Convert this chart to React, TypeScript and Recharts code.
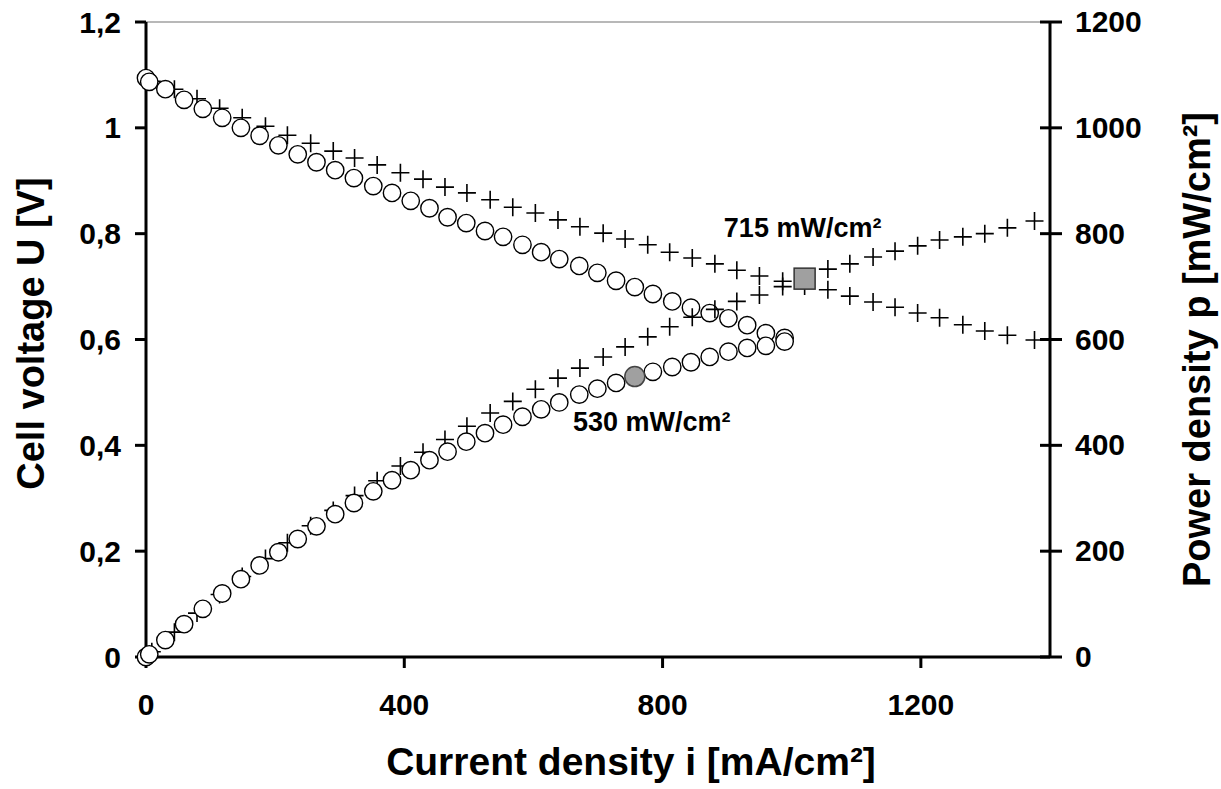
import {
  ScatterChart,
  Scatter,
  XAxis,
  YAxis,
  ReferenceLine,
} from "recharts";

// sample A (circles)
const currentA = [0, 5, 30, 59, 88, 118, 147, 176, 205, 235, 264, 293, 322, 352, 381, 410, 439, 467, 496, 525, 553, 583, 612, 640, 671, 699, 728, 757, 785, 815, 844, 873, 902, 931, 960, 989];
const voltageA = [1.094, 1.087, 1.073, 1.053, 1.036, 1.019, 1.0, 0.985, 0.967, 0.95, 0.935, 0.92, 0.905, 0.89, 0.877, 0.862, 0.848, 0.831, 0.82, 0.805, 0.794, 0.779, 0.765, 0.752, 0.739, 0.726, 0.711, 0.699, 0.686, 0.672, 0.66, 0.65, 0.64, 0.627, 0.612, 0.603];
const powerA = [0, 5, 32, 62, 91, 120, 147, 173, 198, 223, 247, 270, 291, 313, 334, 353, 372, 388, 407, 423, 439, 454, 468, 481, 496, 507, 518, 529, 539, 548, 557, 567, 577, 584, 588, 596];

// sample B (crosses)
const currentB = [0, 9, 44, 79, 114, 149, 185, 219, 255, 290, 323, 358, 394, 429, 463, 497, 533, 568, 603, 638, 672, 708, 742, 777, 811, 846, 881, 915, 950, 986, 1020, 1056, 1090, 1126, 1160, 1195, 1229, 1265, 1299, 1334, 1376];
const voltageB = [1.093, 1.088, 1.073, 1.055, 1.037, 1.019, 1.003, 0.986, 0.971, 0.956, 0.943, 0.93, 0.915, 0.903, 0.888, 0.877, 0.864, 0.85, 0.839, 0.826, 0.813, 0.801, 0.79, 0.779, 0.765, 0.754, 0.743, 0.731, 0.72, 0.71, 0.701, 0.694, 0.682, 0.671, 0.661, 0.65, 0.641, 0.628, 0.616, 0.608, 0.599];
const powerB = [0, 10, 47, 83, 118, 152, 186, 216, 248, 277, 305, 333, 361, 387, 411, 436, 461, 483, 506, 527, 546, 567, 586, 605, 624, 642, 657, 672, 684, 700, 715, 733, 743, 756, 767, 777, 788, 794, 800, 811, 824];

// maximum power points
const peakCurrent = [757, 1020];
const peakPower = [530, 715];
const peakLabels = ["530 mW/cm²", "715 mW/cm²"];

const xTicks = [0, 400, 800, 1200];
const uTicks = [0, 0.2, 0.4, 0.6, 0.8, 1, 1.2];
const pTicks = [0, 200, 400, 600, 800, 1000, 1200];

const uA = currentA.map((i, k) => ({ i, u: voltageA[k] }));
const pA = currentA.map((i, k) => ({ i, p: powerA[k] }));
const uB = currentB.map((i, k) => ({ i, u: voltageB[k] }));
const pB = currentB.map((i, k) => ({ i, p: powerB[k] }));
const peaks = peakCurrent.map((i, k) => ({ i, p: peakPower[k], label: peakLabels[k], k }));

const font = "'Liberation Sans', Arial, sans-serif";
const tickFont = { fontFamily: font, fontSize: 30, fontWeight: 700, fill: "#000" };
const titleStyle = { fontFamily: font, fontSize: 39, fontWeight: 700, fill: "#000", textAnchor: "middle" as const };

const Ring = (props: any) => (
  <circle cx={props.cx} cy={props.cy} r={8.7} fill="#fff" stroke="#000" strokeWidth={1.4} />
);

const Cross = (props: any) => {
  const { cx, cy } = props;
  return (
    <path
      d={`M${cx - 9},${cy}H${cx + 9}M${cx},${cy - 9}V${cy + 9}`}
      stroke="#000"
      strokeWidth={1.6}
      fill="none"
    />
  );
};

const Peak = (props: any) => {
  const { cx, cy, payload } = props;
  if (payload.k === 1) {
    return (
      <g>
        <rect x={cx - 10.5} y={cy - 10.5} width={21} height={21} fill="#a0a0a0" stroke="#333" strokeWidth={1.5} />
        <text x={cx - 2} y={cy - 42} textAnchor="middle" style={{ fontFamily: font, fontSize: 27, fontWeight: 700 }}>
          {payload.label}
        </text>
      </g>
    );
  }
  return (
    <g>
      <circle cx={cx} cy={cy} r={10} fill="#a0a0a0" stroke="#444" strokeWidth={1.5} />
      <text x={cx + 17} y={cy + 54} textAnchor="middle" style={{ fontFamily: font, fontSize: 27, fontWeight: 700 }}>
        {payload.label}
      </text>
    </g>
  );
};

const RightTick = (props: any) => {
  const { x, y, payload } = props;
  return (
    <g>
      <line x1={x - 35} x2={x - 13} y1={y} y2={y} stroke="#000" strokeWidth={3} />
      <text x={x} y={y} dy={10} textAnchor="start" style={tickFont}>
        {payload.value}
      </text>
    </g>
  );
};

// rotated axis title, placed from the axis box
const VTitle = ({ viewBox, text, fromLeft, shift }: any) => {
  const x = fromLeft ? viewBox.x + fromLeft : viewBox.x + viewBox.width - 24;
  const y = viewBox.y + viewBox.height / 2 + shift;
  return (
    <text
      x={x}
      y={y}
      dy={13}
      transform={`rotate(-90, ${x}, ${y})`}
      style={{ ...titleStyle, fontSize: 38 }}
    >
      {text}
    </text>
  );
};

export default function App() {
  return (
    <div style={{ position: "absolute", left: 0, top: 0, background: "#fff" }}>
      <ScatterChart width={1221} height={789} margin={{ top: 22, right: 0, bottom: 0, left: 0 }}>
        <XAxis
          type="number"
          dataKey="i"
          domain={[0, 1400]}
          ticks={xTicks}
          height={132}
          axisLine={{ stroke: "#000", strokeWidth: 3 }}
          tickLine={{ stroke: "#000", strokeWidth: 3 }}
          tickSize={11}
          tickMargin={26}
          tick={tickFont}
          label={{ value: "Current density i [mA/cm²]", position: "insideBottom", offset: 14, dx: 33, style: titleStyle }}
        />
        <YAxis
          yAxisId="u"
          type="number"
          dataKey="u"
          domain={[0, 1.2]}
          ticks={uTicks}
          width={146}
          axisLine={{ stroke: "#000", strokeWidth: 3 }}
          tickLine={{ stroke: "#000", strokeWidth: 3 }}
          tickSize={11}
          tickMargin={14}
          tick={tickFont}
          tickFormatter={(v: number) => String(v).replace(".", ",")}
          label={{ content: (p: any) => <VTitle viewBox={p.viewBox} text="Cell voltage U [V]" fromLeft={31} shift={-6} /> }}
        />
        <YAxis
          yAxisId="p"
          orientation="right"
          type="number"
          dataKey="p"
          domain={[0, 1200]}
          ticks={pTicks}
          width={171}
          axisLine={{ stroke: "#000", strokeWidth: 3 }}
          tickLine={false}
          tickSize={12}
          tickMargin={13}
          tick={<RightTick />}
          label={{ content: (p: any) => <VTitle viewBox={p.viewBox} text="Power density p [mW/cm²]" shift={10} /> }}
        />
        <ReferenceLine yAxisId="u" y={1.2} stroke="#a0a0a0" strokeWidth={1.5} />
        <Scatter yAxisId="u" data={uB} shape={<Cross />} isAnimationActive={false} />
        <Scatter yAxisId="u" data={uA} shape={<Ring />} isAnimationActive={false} />
        <Scatter yAxisId="p" data={pB} shape={<Cross />} isAnimationActive={false} />
        <Scatter yAxisId="p" data={pA} shape={<Ring />} isAnimationActive={false} />
        <Scatter yAxisId="p" data={peaks} shape={<Peak />} isAnimationActive={false} />
      </ScatterChart>
    </div>
  );
}
